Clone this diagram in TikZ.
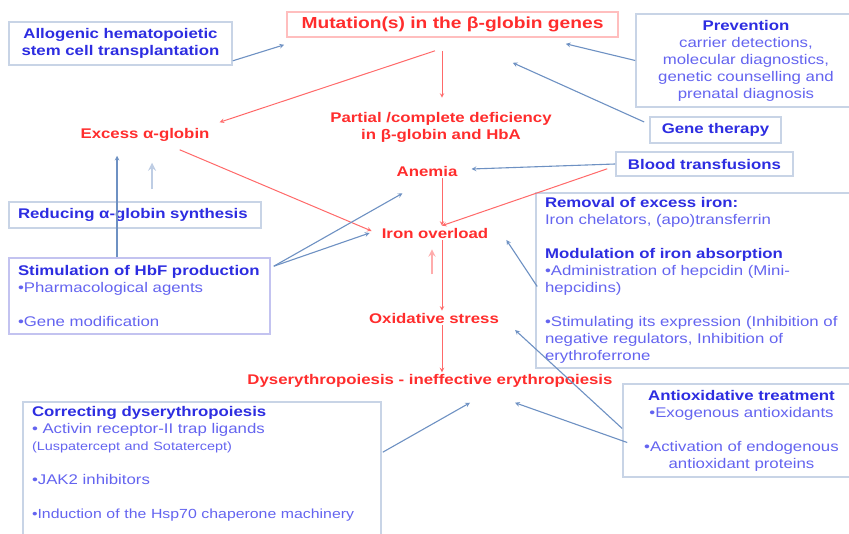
\documentclass[tikz,border=0pt]{standalone}
\usepackage{fontspec}
\setmainfont{Liberation Sans}[FakeStretch=1.2]
\usepackage{xcolor}
\usepackage{tikz}
\usetikzlibrary{arrows, positioning, calc}

\definecolor{boxline}{RGB}{200,212,230}
\definecolor{mutline}{RGB}{255,190,190}
\definecolor{hbfline}{RGB}{195,195,240}
\definecolor{txtblue}{RGB}{100,100,240}
\definecolor{headblue}{RGB}{45,45,225}
\definecolor{txtred}{RGB}{255,45,45}
\definecolor{linkblue}{RGB}{110,145,195}
\definecolor{linkred}{RGB}{255,105,105}

\newcommand{\boxhead}[1]{\textcolor{headblue}{\textbf{#1}}}

\begin{document}
\begin{tikzpicture}[
    x=1pt, y=-1pt,
    box/.style={rectangle, draw=boxline, line width=1.6pt, fill=white, text=txtblue, font=\fontsize{14}{17}\selectfont, inner xsep=9pt, inner ysep=0pt},
    redtxt/.style={text=txtred, font=\bfseries\fontsize{14}{17}\selectfont, align=center, inner sep=2pt},
    bluearrow/.style={->, >=stealth, line width=1.1pt, draw=linkblue},
    redarrow/.style={->, >=stealth, line width=1pt, draw=linkred}
]
\fill[white] (0,0) rectangle (849,534);
\useasboundingbox (0,0) rectangle (849,534);
\clip (0,0) rectangle (849,534);

% Top: mutation and therapies
\node [box, draw=mutline, minimum width=331pt, minimum height=25pt, text=txtred, font=\bfseries\fontsize{16}{19}\selectfont] (mutation) at (452.5,24.5) {Mutation(s) in the β-globin genes};
\node [box, minimum width=223pt, minimum height=43pt, align=center] (allo) at (120.5,43.5) {\boxhead{Allogenic hematopoietic}\\\boxhead{stem cell transplantation}};
\node [box, minimum width=220pt, minimum height=93pt, align=center] (prev) at (746,60.5) {\boxhead{Prevention}\\carrier detections,\\molecular diagnostics,\\genetic counselling and\\prenatal diagnosis};
\node [box, minimum width=131pt, minimum height=26pt] (gene) at (715.5,130) {\boxhead{Gene therapy}};
\node [box, minimum width=177pt, minimum height=24pt] (blood) at (704.5,164) {\boxhead{Blood transfusions}};

% Left column
\node [box, minimum height=26pt, text width=234pt, align=left] (reduce) at (135,215) {\boxhead{Reducing α-globin synthesis}};
\node [box, draw=hbfline, minimum height=76pt, text width=243pt, align=left] (stim) at (139.5,296) {\boxhead{Stimulation of HbF production}\\•Pharmacological agents\\[17pt]•Gene modification};
\node [box, minimum height=138pt, text width=340pt, align=left] (correct) at (202,471) {\boxhead{Correcting dyserythropoiesis}\\• Activin receptor-II trap ligands\\{\fontsize{12}{15}\selectfont(Luspatercept and Sotatercept)}\\[17pt]•JAK2 inhibitors\\[17pt]\mbox{\fontsize{13.2}{17}\selectfont•Induction of the Hsp70 chaperone machinery}\\\mbox{}};

% Right column
\node [box, minimum height=175pt, text width=306pt, align=left] (removal) at (698,280.5) {\boxhead{Removal of excess iron:}\\Iron chelators, (apo)transferrin\\[17pt]\boxhead{Modulation of iron absorption}\\•Administration of hepcidin (Mini-\\hepcidins)\\[17pt]•Stimulating its expression (Inhibition of\\negative regulators,  Inhibition of\\erythroferrone};
\node [box, minimum width=237pt, minimum height=93pt, align=center] (antiox) at (741.5,430.5) {\boxhead{Antioxidative treatment}\\•Exogenous antioxidants\\[17pt]•Activation of endogenous\\antioxidant proteins};

% Disease cascade
\node [redtxt] (deficiency) at (441,127) {Partial /complete deficiency\\in β-globin and HbA};
\node [redtxt] (excess) at (145,135) {Excess α-globin};
\node [redtxt] (anemia) at (427,171) {Anemia};
\node [redtxt] (overload) at (435,233) {Iron overload};
\node [redtxt] (oxstress) at (434,318) {Oxidative stress};
\node [redtxt] (dyserythro) at (430,381) {Dyserythropoiesis - ineffective erythropoiesis};
\coordinate (spine) at (442,0);

\draw [redarrow, shorten >=12pt] ($(mutation.south -| spine)+(0,13)$) -- (deficiency.north -| spine);
\draw [redarrow] ($(mutation.south -| spine)+(-7,13)$) -- ($(excess.north east)+(8,-4)$);
\draw [redarrow] ($(excess.south east)+(-32,6)$) -- ($(overload.west)+(-8,-2)$);
\draw [redarrow] (anemia.south -| spine) -- (overload.north -| spine);
\draw [redarrow] ($(blood.south west)+(-8,-8)$) -- (overload.north -| spine);
\draw [redarrow] (overload.south -| spine) -- (oxstress.north -| spine);
\draw [redarrow, line width=2.2pt, draw=linkred!55] ($(overload.south -| spine)+(-10,34)$) -- ($(overload.south -| spine)+(-10,9)$);
\draw [redarrow] (oxstress.south -| spine) -- (dyserythro.north -| spine);

\draw [bluearrow] ($(allo.south east)+(0,-5)$) -- ($(mutation.south west)+(-2,7)$);
\draw [bluearrow] (prev.west) -- ($(mutation.south east)+(-53,6)$);
\draw [bluearrow] ($(gene.west)+(-5,-8)$) -- ($(mutation.south east)+(-106,25)$);
\draw [bluearrow] (blood.west) -- ($(anemia.east)+(12,-2)$);
\draw [bluearrow, line width=2.5pt, draw=linkblue!45] ($(reduce.north)+(17,-12)$) -- ($(excess.south)+(7,19)$);
\draw [bluearrow] ($(stim.north)+(-22.5,0)$) -- ($(excess.south)+(-28,12)$);
\draw [bluearrow] ($(stim.north east)+(3,9)$) -- ($(anemia.south west)+(8,15)$);
\draw [bluearrow] ($(stim.north east)+(3,9)$) -- ($(overload.west)+(-10,0)$);
\draw [bluearrow] ($(removal.west)+(2,6)$) -- ($(overload.east)+(16,7)$);
\draw [bluearrow] ($(antiox.west)+(0,-2)$) -- ($(oxstress.east)+(14,12)$);
\draw [bluearrow] ($(antiox.west)+(5,12)$) -- ($(dyserythro.south)+(85,13)$);
\draw [bluearrow] ($(correct.north east)+(1,51)$) -- ($(dyserythro.south)+(40,13)$);
\end{tikzpicture}
\end{document}
